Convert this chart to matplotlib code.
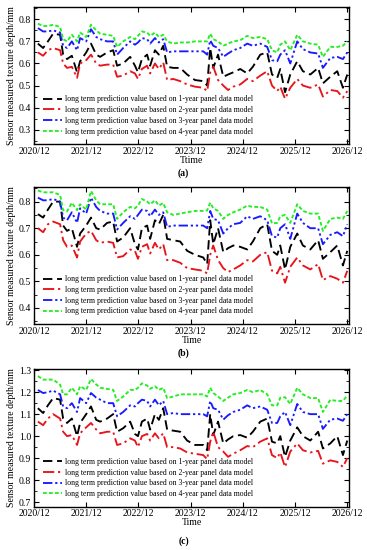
import numpy as np
import matplotlib
matplotlib.use('Agg')
import matplotlib.pyplot as plt
from matplotlib.ticker import MultipleLocator

plt.rcParams['font.family'] = ['Liberation Serif', 'DejaVu Serif']

# months after 2020/12
months = [0.9, 2.1, 3.2, 4.4, 6.0, 6.7, 7.6, 8.7, 9.9, 10.6, 12.0, 13.1, 14.3, 15.2, 16.8,
          18.2, 19.1, 20.5, 22.1, 23.2, 23.9, 24.8, 26.0, 26.7, 27.8, 28.7, 29.7, 30.6, 32.0,
          33.6, 35.2, 37.0, 38.9, 39.8, 40.5, 41.2, 42.3, 43.5, 44.6, 45.8, 47.4, 49.0, 50.3,
          52.0, 53.6, 54.7, 55.9, 56.6, 57.7, 58.9, 60.5, 61.8, 63.5, 65.3, 66.4, 68.1, 69.7,
          71.0, 72.0]
tick_labels = ['2020/12', '2021/12', '2022/12', '2023/12', '2024/12', '2025/12', '2026/12']
series_names = ['long term prediction value based on 1-year panel data model',
                'long term prediction value based on 2-year panel data model',
                'long term prediction value based on 3-year panel data model',
                'long term prediction value based on 4-year panel data model']

# panel (a)
a_1yr = [0.69, 0.67, 0.70, 0.735, 0.73, 0.64, 0.62, 0.635, 0.56, 0.61, 0.65, 0.69, 0.64, 0.63, 0.65,
         0.66, 0.59, 0.60, 0.63, 0.59, 0.56, 0.62, 0.64, 0.59, 0.66, 0.64, 0.68, 0.585, 0.58, 0.58,
         0.55, 0.525, 0.52, 0.50, 0.67, 0.58, 0.64, 0.54, 0.55, 0.56, 0.575, 0.555, 0.585, 0.64, 0.65,
         0.55, 0.535, 0.575, 0.47, 0.55, 0.61, 0.565, 0.55, 0.58, 0.51, 0.54, 0.565, 0.49, 0.55]
a_2yr = [0.65, 0.635, 0.66, 0.67, 0.66, 0.60, 0.58, 0.585, 0.535, 0.60, 0.615, 0.64, 0.60, 0.59, 0.595,
         0.595, 0.54, 0.545, 0.565, 0.555, 0.53, 0.575, 0.59, 0.555, 0.60, 0.575, 0.605, 0.525, 0.53,
         0.52, 0.505, 0.495, 0.49, 0.475, 0.56, 0.585, 0.525, 0.50, 0.48, 0.495, 0.505, 0.53, 0.52,
         0.545, 0.565, 0.50, 0.475, 0.495, 0.44, 0.49, 0.53, 0.50, 0.49, 0.505, 0.45, 0.48, 0.475,
         0.445, 0.475]
a_3yr = [0.76, 0.745, 0.745, 0.75, 0.74, 0.68, 0.67, 0.70, 0.66, 0.715, 0.70, 0.755, 0.72, 0.71, 0.70,
         0.70, 0.64, 0.67, 0.70, 0.685, 0.695, 0.715, 0.71, 0.69, 0.715, 0.695, 0.71, 0.65, 0.655,
         0.655, 0.655, 0.655, 0.655, 0.64, 0.705, 0.68, 0.67, 0.63, 0.645, 0.66, 0.67, 0.69, 0.68,
         0.69, 0.675, 0.615, 0.61, 0.64, 0.66, 0.60, 0.70, 0.665, 0.65, 0.645, 0.58, 0.625, 0.63,
         0.62, 0.65]
a_4yr = [0.78, 0.77, 0.77, 0.775, 0.765, 0.71, 0.70, 0.73, 0.70, 0.74, 0.72, 0.775, 0.75, 0.735, 0.73,
         0.725, 0.675, 0.70, 0.72, 0.71, 0.725, 0.745, 0.74, 0.725, 0.74, 0.72, 0.73, 0.70, 0.69,
         0.695, 0.695, 0.70, 0.70, 0.70, 0.735, 0.71, 0.70, 0.68, 0.69, 0.70, 0.705, 0.725, 0.715,
         0.72, 0.71, 0.66, 0.65, 0.685, 0.70, 0.66, 0.73, 0.70, 0.69, 0.685, 0.63, 0.675, 0.675,
         0.68, 0.70]

# panel (b)
b_1yr = [0.753, 0.74, 0.77, 0.80, 0.80, 0.71, 0.69, 0.70, 0.63, 0.68, 0.71, 0.74, 0.70, 0.695, 0.72,
         0.725, 0.65, 0.665, 0.70, 0.64, 0.62, 0.70, 0.71, 0.66, 0.73, 0.715, 0.75, 0.66, 0.655, 0.65,
         0.615, 0.60, 0.59, 0.565, 0.73, 0.64, 0.70, 0.61, 0.625, 0.635, 0.63, 0.62, 0.65, 0.70, 0.715,
         0.615, 0.60, 0.635, 0.545, 0.63, 0.68, 0.635, 0.62, 0.655, 0.585, 0.61, 0.635, 0.56, 0.615]
b_2yr = [0.70, 0.685, 0.715, 0.725, 0.715, 0.655, 0.63, 0.635, 0.59, 0.65, 0.68, 0.69, 0.655, 0.645,
         0.65, 0.645, 0.59, 0.595, 0.62, 0.615, 0.585, 0.63, 0.64, 0.605, 0.645, 0.62, 0.64, 0.58, 0.58,
         0.57, 0.55, 0.545, 0.54, 0.53, 0.60, 0.635, 0.58, 0.55, 0.535, 0.545, 0.56, 0.58, 0.575, 0.60,
         0.61, 0.54, 0.53, 0.555, 0.495, 0.555, 0.59, 0.56, 0.545, 0.565, 0.505, 0.52, 0.51, 0.495,
         0.54]
b_3yr = [0.815, 0.805, 0.805, 0.81, 0.80, 0.74, 0.73, 0.76, 0.72, 0.775, 0.755, 0.815, 0.78, 0.765,
         0.755, 0.755, 0.695, 0.72, 0.745, 0.735, 0.75, 0.77, 0.765, 0.745, 0.77, 0.75, 0.76, 0.705,
         0.71, 0.71, 0.71, 0.71, 0.71, 0.70, 0.765, 0.735, 0.73, 0.68, 0.70, 0.715, 0.72, 0.745, 0.735,
         0.745, 0.73, 0.67, 0.665, 0.70, 0.715, 0.66, 0.755, 0.72, 0.70, 0.70, 0.64, 0.675, 0.685,
         0.67, 0.715]
b_4yr = [0.842, 0.835, 0.835, 0.835, 0.825, 0.768, 0.763, 0.796, 0.768, 0.79, 0.77, 0.84, 0.805, 0.79,
         0.79, 0.79, 0.735, 0.76, 0.78, 0.775, 0.785, 0.81, 0.80, 0.79, 0.805, 0.785, 0.795, 0.76, 0.75,
         0.755, 0.76, 0.765, 0.765, 0.767, 0.796, 0.775, 0.765, 0.735, 0.75, 0.76, 0.77, 0.785, 0.78,
         0.78, 0.77, 0.718, 0.72, 0.745, 0.75, 0.72, 0.79, 0.765, 0.755, 0.755, 0.69, 0.735, 0.74,
         0.735, 0.765]

# panel (c)
c_1yr = [1.127, 1.105, 1.14, 1.173, 1.166, 1.08, 1.06, 1.08, 1.00, 1.06, 1.10, 1.135, 1.074, 1.066,
         1.08, 1.10, 1.02, 1.036, 1.066, 1.01, 1.00, 1.066, 1.08, 1.03, 1.10, 1.074, 1.127, 1.03, 1.025,
         1.02, 0.98, 0.96, 0.96, 0.936, 1.10, 1.005, 1.066, 0.967, 0.985, 1.00, 1.005, 0.993, 1.02,
         1.066, 1.08, 0.975, 0.967, 1.00, 0.906, 0.98, 1.04, 1.00, 0.98, 1.02, 0.944, 0.967, 1.00,
         0.914, 0.98]
c_2yr = [1.066, 1.05, 1.08, 1.10, 1.08, 1.02, 1.00, 1.005, 0.96, 1.013, 1.04, 1.06, 1.03, 1.013, 1.02,
         1.02, 0.96, 0.967, 0.99, 0.98, 0.95, 1.00, 1.01, 0.98, 1.013, 0.99, 1.013, 0.95, 0.95, 0.944,
         0.926, 0.92, 0.914, 0.895, 0.975, 1.02, 0.95, 0.93, 0.906, 0.92, 0.936, 0.955, 0.95, 0.975,
         0.99, 0.914, 0.90, 0.926, 0.86, 0.93, 0.967, 0.936, 0.926, 0.933, 0.875, 0.89, 0.883, 0.86,
         0.90]
c_3yr = [1.21, 1.196, 1.20, 1.207, 1.19, 1.135, 1.127, 1.15, 1.11, 1.173, 1.15, 1.196, 1.175, 1.166,
         1.15, 1.15, 1.09, 1.11, 1.14, 1.135, 1.15, 1.166, 1.16, 1.135, 1.166, 1.14, 1.16, 1.10, 1.105,
         1.10, 1.10, 1.10, 1.10, 1.09, 1.16, 1.127, 1.12, 1.075, 1.095, 1.11, 1.12, 1.14, 1.127, 1.135,
         1.12, 1.06, 1.06, 1.09, 1.11, 1.05, 1.146, 1.11, 1.10, 1.10, 1.033, 1.075, 1.08, 1.07, 1.10]
c_4yr = [1.273, 1.257, 1.257, 1.257, 1.234, 1.19, 1.19, 1.22, 1.19, 1.227, 1.21, 1.26, 1.235, 1.22,
         1.215, 1.21, 1.16, 1.18, 1.21, 1.21, 1.22, 1.24, 1.23, 1.215, 1.227, 1.21, 1.22, 1.173, 1.18,
         1.19, 1.19, 1.19, 1.19, 1.18, 1.22, 1.196, 1.18, 1.16, 1.175, 1.19, 1.196, 1.21, 1.20, 1.21,
         1.19, 1.14, 1.14, 1.175, 1.177, 1.146, 1.22, 1.19, 1.173, 1.173, 1.11, 1.165, 1.16, 1.16,
         1.185]

panels = [
    ([a_1yr, a_2yr, a_3yr, a_4yr], (0.235, 0.855), np.arange(0.3, 0.81, 0.1), 'Ttime', '(a)'),
    ([b_1yr, b_2yr, b_3yr, b_4yr], (0.34, 0.855), np.arange(0.4, 0.81, 0.1), 'Time', '(b)'),
    ([c_1yr, c_2yr, c_3yr, c_4yr], (0.68, 1.305), np.arange(0.7, 1.31, 0.1), 'Time', '(c)'),
]
boxes = [(0.738, 0.987), (0.411, 0.660), (0.079, 0.329)]
letter_y = [0.676, 0.349, 0.008]

colors = ['black', '#e8141c', '#1a1aff', '#22ee22']
dashes = [(5, 2.5), (6, 2, 1.2, 2), (5, 1.5, 1.2, 1.5, 1.2, 1.5), (2, 1.2)]

fig = plt.figure(figsize=(3.67, 5.5), dpi=100)

for (series, ylim, yticks, xlab, letter), (b, t), ly in zip(panels, boxes, letter_y):
    ax = fig.add_axes([0.0926, b, 0.951 - 0.0926, t - b])
    for vals, c, d, name in zip(series, colors, dashes, series_names):
        ax.plot(months, vals, color=c, lw=1.35, dashes=d, label=name)
    ax.set_xlim(0, 72.4)
    ax.set_ylim(*ylim)
    ax.set_xticks(np.arange(0, 73, 12))
    ax.set_xticklabels(tick_labels)
    ax.set_yticks(yticks)
    ax.set_yticklabels(['%.1f' % v for v in yticks])
    ax.yaxis.set_minor_locator(MultipleLocator(0.05))
    ax.tick_params(which='both', direction='in', top=True, right=True, labelsize=7, pad=2)
    ax.tick_params(which='major', length=3.5)
    ax.tick_params(which='minor', length=2)
    for s in ax.spines.values():
        s.set_linewidth(1.0)
    ax.set_xlabel(xlab, fontsize=7, labelpad=0)
    ax.set_ylabel('Sensor measured texture depth/mm', fontsize=7, labelpad=2)
    ax.legend(loc='lower left', frameon=False, fontsize=5.6, handlelength=2.5,
              handletextpad=0.4, labelspacing=0.35, borderaxespad=0.7)
    fig.text(0.5, ly, letter, ha='center', va='bottom', fontsize=7, fontweight='bold')

plt.savefig('out.png', dpi=100)
